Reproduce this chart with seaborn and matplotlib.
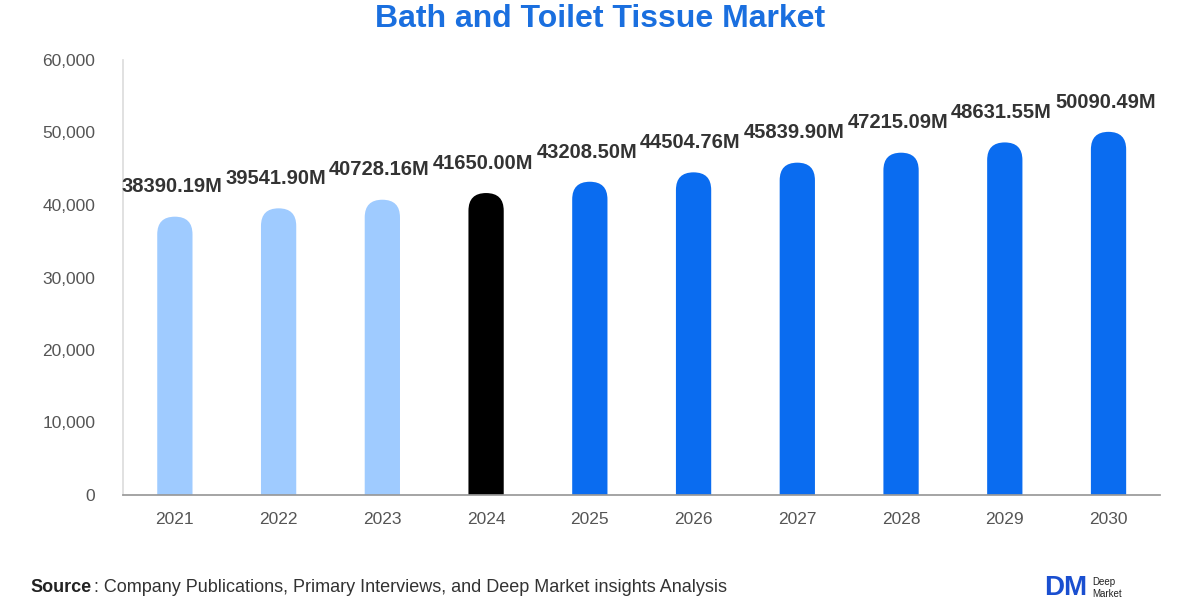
import matplotlib
matplotlib.use("Agg")
import matplotlib.pyplot as plt
import seaborn as sns
import pandas as pd
from matplotlib.patches import FancyBboxPatch

years = ["2021","2022","2023","2024","2025","2026","2027","2028","2029","2030"]
values = [38390.19,39541.90,40728.16,41650.00,43208.50,44504.76,45839.90,47215.09,48631.55,50090.49]
colors = ["#9fcbff"]*3 + ["#000000"] + ["#0a6cf0"]*6

sns.set_theme(style="white")
plt.rcParams['font.family'] = ['Liberation Sans', 'DejaVu Sans']
fig = plt.figure(figsize=(12, 6), dpi=100)
ax = fig.add_axes([0.1025, 0.175, 0.8645, 0.725])
df = pd.DataFrame({"year": years, "value": values})
sns.barplot(data=df, x="year", y="value", hue="year", palette=colors, legend=False, width=0.34, ax=ax)
ax.set_ylim(0, 60000)
ax.set_xlim(-0.5, 9.5)

r = 0.17
aspect = (60000/435) / (1/103.7)
for p, v, c in zip(list(ax.patches), values, colors):
    x0, w = p.get_x(), p.get_width()
    p.remove()
    fb = FancyBboxPatch((x0, -3000), w, v + 3000, boxstyle=f"round,pad=0,rounding_size={r}",
                        mutation_aspect=aspect, fc=c, ec="none", clip_on=True)
    ax.add_patch(fb)
    fb.set_clip_path(ax.patch)
    ax.text(x0 + w/2 - 0.03, v + 4100, f"{v:.2f}M", ha="center", va="center", fontsize=14.5,
            fontweight="bold", color="#333333", clip_on=False)

ax.set_xlabel(""); ax.set_ylabel("")
ax.set_yticks(range(0, 60001, 10000))
ax.set_yticklabels([f"{t:,}" for t in range(0, 60001, 10000)])
ax.tick_params(axis="both", labelsize=12.5, colors="#555555", length=0)
ax.tick_params(axis="y", pad=20)
ax.tick_params(axis="x", pad=12)
for s in ["top", "right"]:
    ax.spines[s].set_visible(False)
ax.spines["left"].set_color("#dddddd")
ax.spines["bottom"].set_color("#999999")
fig.text(0.5, 0.968, "Bath and Toilet Tissue Market", ha="center", va="center",
         fontsize=23, fontweight="bold", color="#1a6fdf")
fig.text(0.025, 0.02, "Source", fontsize=13, fontweight="bold", color="#222222", va="center")
fig.text(0.0785, 0.02, ": Company Publications, Primary Interviews, and Deep Market insights Analysis",
         fontsize=13, color="#333333", va="center")
fig.text(0.87, 0.02, "DM", fontsize=20, fontweight="bold", color="#1a4fd0", va="center")
fig.text(0.91, 0.02, "Deep\nMarket", fontsize=7, color="#222222", va="center")
fig.savefig("out.png", dpi=100)
